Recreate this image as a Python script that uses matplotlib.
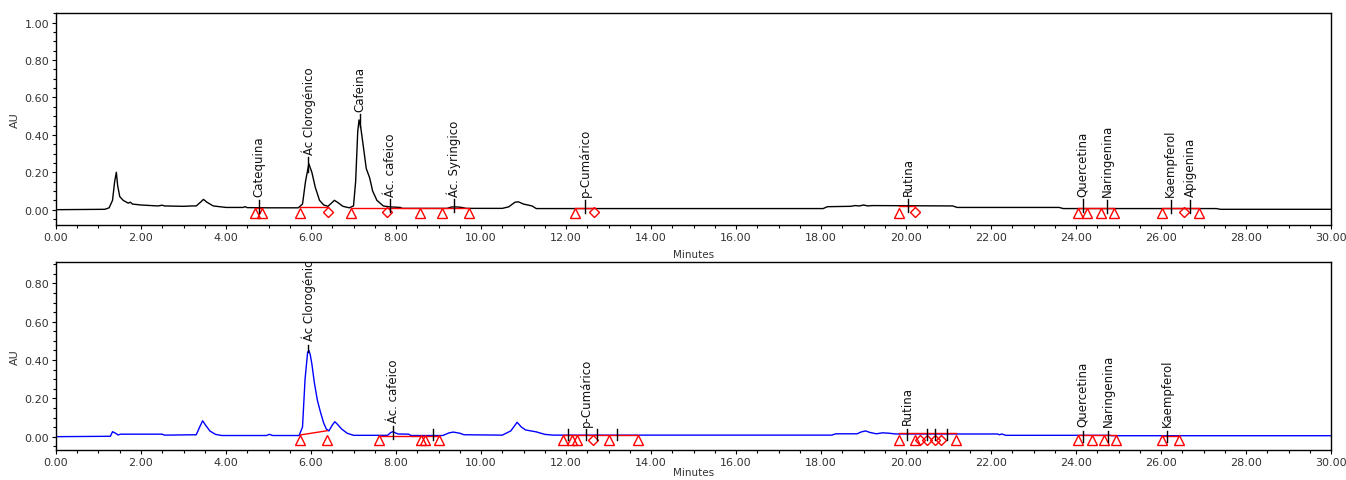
import matplotlib
matplotlib.use("Agg")
import matplotlib.pyplot as plt
from matplotlib.ticker import MultipleLocator, FormatStrFormatter

# ---- traza superior (padrao) ----
t_top = [0.00, 1.15, 1.25, 1.33, 1.38, 1.42, 1.45, 1.50, 1.58, 1.70, 1.75, 1.80,
         2.00, 2.40, 2.50, 2.55, 3.00, 3.20, 3.30, 3.40, 3.47, 3.55, 3.70, 4.00,
         4.40, 4.45, 4.50, 5.00, 5.70, 5.80, 5.87, 5.92, 5.95, 5.98, 6.02, 6.10,
         6.20, 6.30, 6.40, 6.48, 6.55, 6.62, 6.75, 6.90, 7.00, 7.05, 7.10, 7.13,
         7.17, 7.23, 7.30, 7.38, 7.45, 7.55, 7.70, 7.85, 8.10, 8.15, 9.20, 9.30,
         9.40, 9.55, 9.65, 10.50, 10.65, 10.80, 10.88, 11.00, 11.20, 11.30, 18.05,
         18.15, 18.70, 18.80, 18.90, 19.00, 19.10, 19.20, 21.10, 21.20, 23.60,
         23.70, 27.30, 27.40, 30.00]
au_top = [0.000, 0.002, 0.010, 0.050, 0.150, 0.200, 0.130, 0.070, 0.050, 0.035, 0.040, 0.030,
          0.025, 0.020, 0.024, 0.020, 0.018, 0.020, 0.020, 0.040, 0.055, 0.040, 0.020, 0.012,
          0.012, 0.016, 0.011, 0.010, 0.010, 0.030, 0.150, 0.210, 0.245, 0.225, 0.200, 0.120,
          0.050, 0.025, 0.018, 0.035, 0.050, 0.040, 0.018, 0.010, 0.020, 0.150, 0.420, 0.480,
          0.440, 0.340, 0.220, 0.170, 0.100, 0.050, 0.020, 0.015, 0.012, 0.007, 0.007, 0.014,
          0.015, 0.012, 0.007, 0.007, 0.015, 0.040, 0.042, 0.030, 0.020, 0.006, 0.006,
          0.016, 0.018, 0.022, 0.020, 0.025, 0.020, 0.022, 0.020, 0.012, 0.012,
          0.006, 0.006, 0.002, 0.002]

# ---- traza inferior (amostra) ----
t_bot = [0.00, 1.28, 1.33, 1.40, 1.46, 1.52, 2.50, 2.55, 3.30, 3.38, 3.45, 3.52, 3.62,
         3.75, 3.90, 4.95, 5.02, 5.10, 5.72, 5.80, 5.86, 5.92, 5.95, 5.98, 6.02, 6.08,
         6.15, 6.22, 6.30, 6.36, 6.42, 6.50, 6.56, 6.62, 6.72, 6.85, 7.00, 7.80, 7.88,
         7.93, 8.00, 8.05, 8.30, 8.35, 9.10, 9.25, 9.35, 9.50, 9.60, 10.50, 10.70, 10.85,
         10.95, 11.05, 11.30, 11.50, 11.70, 18.25, 18.35, 18.85, 18.95, 19.05, 19.15,
         19.30, 19.45, 19.60, 19.75, 22.15, 22.20, 22.25, 22.35, 24.80, 24.85, 30.00]
au_bot = [0.000, 0.002, 0.026, 0.018, 0.009, 0.013, 0.013, 0.008, 0.010, 0.050, 0.083, 0.060, 0.030,
          0.012, 0.006, 0.006, 0.012, 0.006, 0.006, 0.050, 0.300, 0.440, 0.450, 0.430, 0.380, 0.280,
          0.190, 0.130, 0.070, 0.040, 0.030, 0.060, 0.078, 0.065, 0.040, 0.018, 0.007, 0.007, 0.022,
          0.026, 0.018, 0.014, 0.013, 0.006, 0.006, 0.020, 0.024, 0.018, 0.010, 0.008, 0.030, 0.075,
          0.050, 0.035, 0.025, 0.012, 0.008, 0.008, 0.015, 0.015, 0.025, 0.030, 0.022,
          0.015, 0.020, 0.018, 0.014, 0.014, 0.010, 0.014, 0.007, 0.007, 0.005, 0.005]

# picos identificados: nome, tempo, base e topo do traco, inicio do texto
picos_top = [("Catequina", 4.78, -0.02, 0.050, 0.072),
             ("Ác Clorogénico", 5.94, 0.20, 0.280, 0.300),
             ("Cafeina", 7.15, 0.44, 0.510, 0.530),
             ("Ác. cafeico", 7.87, -0.01, 0.057, 0.075),
             ("Ác. Syringico", 9.37, -0.01, 0.057, 0.075),
             ("p-Cumárico", 12.45, -0.02, 0.050, 0.072),
             ("Rutina", 20.05, -0.01, 0.057, 0.078),
             ("Quercetina", 24.16, -0.01, 0.057, 0.072),
             ("Naringenina", 24.73, -0.02, 0.050, 0.072),
             ("Kaempferol", 26.23, -0.02, 0.050, 0.072),
             ("Apigenina", 26.68, -0.02, 0.050, 0.072)]
picos_bot = [("Ác Clorogénico", 5.94, 0.44, 0.480, 0.505),
             ("Ác. cafeico", 7.93, -0.01, 0.055, 0.077),
             ("p-Cumárico", 12.47, -0.02, 0.040, 0.057),
             ("Rutina", 20.03, -0.02, 0.040, 0.064),
             ("Quercetina", 24.16, -0.03, 0.030, 0.058),
             ("Naringenina", 24.75, -0.03, 0.030, 0.058),
             ("Kaempferol", 26.15, -0.03, 0.030, 0.058)]
marcas_bot = [8.87, 12.05, 12.73, 13.20, 20.49, 20.68, 20.96]

# linhas de base da integracao (inicio, fim, nivel inicial, nivel final)
base_top = [(4.68, 4.84, 0.010, 0.010), (5.74, 6.39, 0.015, 0.015), (6.93, 9.72, 0.008, 0.008),
            (12.21, 12.66, 0.007, 0.007), (19.83, 20.20, 0.020, 0.020),
            (24.05, 24.90, 0.008, 0.008), (26.02, 26.89, 0.008, 0.008)]
base_bot = [(5.75, 6.38, 0.009, 0.031), (7.59, 9.02, 0.006, 0.006), (11.93, 13.69, 0.007, 0.007),
            (19.84, 21.17, 0.017, 0.017), (24.05, 24.95, 0.008, 0.008), (26.02, 26.42, 0.006, 0.006)]

tri_top = [4.68, 4.84, 5.74, 6.93, 8.56, 9.08, 9.72, 12.21, 19.83, 24.05, 24.25, 24.59,
           24.90, 26.02, 26.89]
dia_top = [6.39, 7.78, 12.66, 20.20, 26.54]
tri_bot = [5.75, 6.38, 7.59, 8.59, 8.68, 9.02, 11.93, 12.15, 12.25, 13.01, 13.69,
           19.84, 20.20, 21.17, 24.05, 24.38, 24.66, 24.95, 26.02, 26.42]
dia_bot = [12.64, 20.33, 20.50, 20.68, 20.82]


def desenhar(ax, t, au, cor, picos, bases, tris, dias, ylim, ymaj, marcas=(), pad_x=5):
    ax.plot(t, au, color=cor, lw=1.0, zorder=2)
    for x0, x1, y0, y1 in bases:
        ax.plot([x0, x1], [y0, y1], color="red", lw=1.0, zorder=3)
    ax.plot(tris, [-0.017] * len(tris), ls="none", marker="^", ms=7,
            mfc="none", mec="red", mew=1.0, zorder=4)
    ax.plot(dias, [-0.015] * len(dias), ls="none", marker="D", ms=5.5,
            mfc="none", mec="red", mew=1.0, zorder=4)
    for nome, x, yb, yt, ytxt in picos:
        ax.plot([x, x], [yb, yt], color="black", lw=1.0, zorder=5)
        ax.text(x, ytxt, nome, rotation=90, ha="center", va="bottom",
                fontsize=8.5, color="#111111", clip_on=True, zorder=5)
    for x in marcas:
        ax.plot([x, x], [-0.02, 0.04], color="black", lw=1.0, zorder=5)

    ax.set_xlim(0, 30)
    ax.set_ylim(*ylim)
    ax.xaxis.set_major_locator(MultipleLocator(2))
    ax.xaxis.set_minor_locator(MultipleLocator(0.5))
    ax.yaxis.set_major_locator(MultipleLocator(ymaj))
    ax.yaxis.set_minor_locator(MultipleLocator(0.05))
    ax.xaxis.set_major_formatter(FormatStrFormatter("%.2f"))
    ax.yaxis.set_major_formatter(FormatStrFormatter("%.2f"))
    ax.tick_params(which="both", direction="out", labelsize=8, labelcolor="#333333",
                   pad=2)
    ax.tick_params(which="major", length=3, width=0.8)
    ax.tick_params(which="minor", length=2, width=0.8)
    ax.set_xlabel("Minutes", fontsize=7.5, color="#333333", labelpad=pad_x)
    ax.set_ylabel("AU", fontsize=8, color="#333333", labelpad=3)
    for s in ax.spines.values():
        s.set_linewidth(1.0)


fig = plt.figure(figsize=(13.46, 4.81), dpi=100)
ax1 = fig.add_axes([0.0416, 0.5301, 0.9473, 0.4402])
ax2 = fig.add_axes([0.0416, 0.0630, 0.9473, 0.3896])

desenhar(ax1, t_top, au_top, "black", picos_top, base_top, tri_top, dia_top,
         (-0.082, 1.05), 0.2)
desenhar(ax2, t_bot, au_bot, "blue", picos_bot, base_bot, tri_bot, dia_bot,
         (-0.068, 0.91), 0.2, marcas_bot, pad_x=0)
ax2.set_yticks([0.0, 0.2, 0.4, 0.6, 0.8])

fig.savefig("out.png", dpi=100)
